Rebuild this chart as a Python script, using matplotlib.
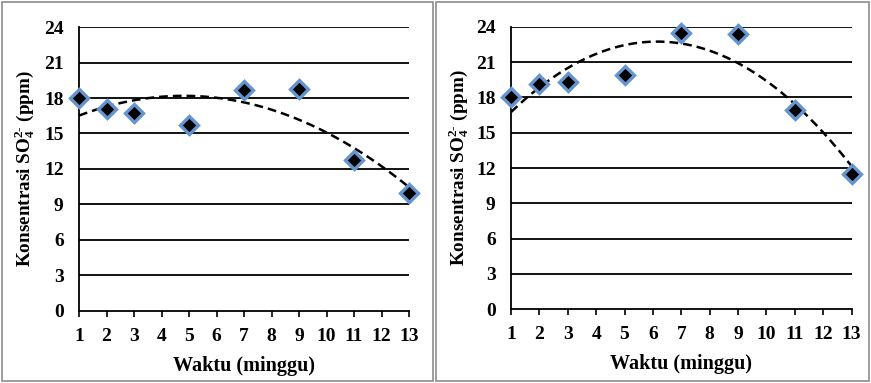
import numpy as np
import matplotlib
matplotlib.use("Agg")
from matplotlib import pyplot as plt
from matplotlib.patches import Rectangle

# data
minggu = [1, 2, 3, 5, 7, 9, 11, 13]
sulfat_kiri = [18.0, 17.1, 16.7, 15.7, 18.7, 18.8, 12.8, 10.0]
sulfat_kanan = [18.0, 19.1, 19.3, 19.9, 23.5, 23.4, 16.9, 11.5]
yticks = [0, 3, 6, 9, 12, 15, 18, 21, 24]
xticks = list(range(1, 14))

plt.rcParams['font.family'] = ['Liberation Serif', 'DejaVu Serif']
plt.rcParams['font.weight'] = 'bold'
plt.rcParams['mathtext.fontset'] = 'custom'
plt.rcParams['mathtext.rm'] = 'Liberation Serif:bold'
plt.rcParams['mathtext.it'] = 'Liberation Serif:bold'
plt.rcParams['mathtext.bf'] = 'Liberation Serif:bold'

fig = plt.figure(figsize=(8.71, 3.83), dpi=100)

# panel borders (pixel boxes -> figure fraction)
W, H = 871.0, 383.0
for (x0, y0, x1, y1) in [(2, 2, 433, 381), (436, 2, 869, 381)]:
    fig.add_artist(Rectangle((x0 / W, 1 - y1 / H), (x1 - x0) / W, (y1 - y0) / H,
                             transform=fig.transFigure, fill=False,
                             edgecolor='#8c8c8c', linewidth=1.2))

posisi = [[0.0907, 0.188, 0.379, 0.7415], [0.5867, 0.1924, 0.391, 0.7378]]
label_x = [25 / W, 459 / W]

for pos, nilai, lx in zip(posisi, [sulfat_kiri, sulfat_kanan], label_x):
    ax = fig.add_axes(pos)
    for g in yticks[1:]:
        ax.axhline(g, color='black', linewidth=1.3, zorder=1)
    koef = np.polyfit(minggu, nilai, 2)
    xx = np.linspace(1, 13, 200)
    ax.plot(xx, np.polyval(koef, xx), linestyle=(0, (3.5, 2)), color='black',
            linewidth=1.8, zorder=2)
    ax.plot(minggu, nilai, linestyle='none', marker='D', markersize=9.5,
            markerfacecolor='black', markeredgecolor='#6595cf',
            markeredgewidth=2.4, clip_on=False, zorder=3)
    ax.set_xlim(1, 13)
    ax.set_ylim(0, 24)
    ax.set_xticks(xticks)
    ax.set_yticks(yticks)
    ax.tick_params(axis='x', direction='out', length=4, width=1.2, pad=8,
                   labelsize=14)
    ax.tick_params(axis='y', length=0, pad=11, labelsize=14)
    for lab in ax.get_xticklabels() + ax.get_yticklabels():
        lab.set_fontweight('bold')
    for s in ['top', 'right']:
        ax.spines[s].set_visible(False)
    for s in ['left', 'bottom']:
        ax.spines[s].set_linewidth(1.3)
    ax.set_xlabel('Waktu (minggu)', fontsize=14.5, fontweight='bold', labelpad=8)
    fig.text(lx, pos[1] + pos[3] / 2, r'Konsentrasi SO$_4^{2\text{-}}$ (ppm)',
             rotation=90, ha='center', va='center', fontsize=13.8,
             fontweight='bold')

fig.savefig('out.png', dpi=100)
